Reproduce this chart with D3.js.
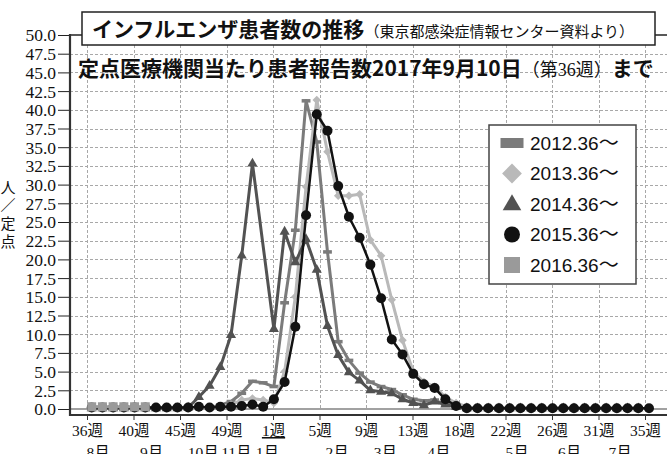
<!DOCTYPE html>
<html lang="ja">
<head>
<meta charset="utf-8">
<title>インフルエンザ患者数の推移</title>
<script src="https://d3js.org/d3.v7.min.js"></script>
<style>
  body { margin: 0; background: #fff; }
  svg { display: block; }
  .grid line { stroke: #a8a8a8; stroke-width: 1; stroke-dasharray: 3,2; shape-rendering: crispEdges; }
  .serif { font-family: "Liberation Serif", "Noto Sans CJK JP", serif; fill: #111; }
  .gothic { font-family: "Noto Sans CJK JP", sans-serif; fill: #111; }
  .legend text { font-family: "Liberation Sans", Arial, sans-serif; font-size: 19px; fill: #111; }
  .legend tspan.wave { font-family: "Noto Sans CJK JP", sans-serif; }
</style>
</head>
<body>
<div id="chart"></div>
<script>
// ---- data ----
var weekLabels = ["36週", "40週", "45週", "49週", "1週", "5週", "9週", "13週", "18週", "22週", "26週", "31週", "35週"];
var monthLabels = ["8月", "9月", "10月", "11月", "1月", "2月", "3月", "4月", "5月", "6月", "7月"];
var monthAt = [0.6, 5.6, 10.4, 13.5, 16.4, 22.9, 27.4, 32.4, 39.7, 44.6, 49.3]; // week index under each month label
var seriesNames = ["2012.36", "2013.36", "2014.36", "2015.36", "2016.36"];

// weekly values, index 0 = week 36 (null = no point plotted)
var s2012 = [0.1, 0.1, 0.1, 0.1, 0.1, 0.1, 0.1, 0.1, 0.1, 0.1, 0.1, 0.2, 0.5, 1.0, 2.1, 3.7, 3.5, 3.0, 14.2, 23.9,
  41.2, 35.7, 21.0, 9.0, 6.5, 4.8, 3.6, 3.0, 2.6, 1.9, 1.3, 1.1, 1.2, 0.6, 0.3, 0.1, 0.1, 0.1, 0.1, 0.1,
  0.1, 0.1, 0.1, 0.1, 0.1, 0.1, 0.1, 0.1, 0.1, 0.1, 0.1, 0.1];
var s2013 = [0.1, 0.1, 0.1, 0.1, 0.1, 0.1, 0.1, 0.1, 0.1, 0.1, 0.1, 0.2, 0.3, 0.6, 1.2, 1.4, 1.2, 0.8, 5.0, 15.0,
  29.7, 41.3, 34.4, 28.5, 28.5, 28.7, 22.6, 20.5, 14.6, 9.2, 5.0, 3.6, 3.0, 1.6, 0.8, 0.3, 0.1, 0.1, 0.1, 0.1,
  0.1, 0.1, 0.1, 0.1, 0.1, 0.1, 0.1, 0.1, 0.1, 0.1, 0.1, 0.1];
var s2014 = [0.1, 0.1, 0.1, 0.1, 0.1, 0.1, 0.1, 0.1, 0.1, 0.2, 1.6, 3.1, 5.6, 9.9, 20.5, 32.8, null, 10.7, 23.7, 19.6,
  22.7, 18.6, 11.1, 7.2, 4.9, 3.8, 2.5, 2.3, 2.1, 1.3, 0.8, 0.5, 1.0, 0.6, 0.3, 0.1, 0.1, 0.1, 0.1, 0.1,
  0.1, 0.1, 0.1, 0.1, 0.1, 0.1, 0.1, 0.1, 0.1, 0.1, 0.1, 0.1];
var s2015 = [0.2, 0.2, 0.2, 0.2, 0.2, 0.2, 0.2, 0.2, 0.2, 0.2, 0.3, 0.2, 0.3, 0.3, 0.4, 0.6, 0.3, 1.3, 3.6, 11.0,
  25.9, 39.4, 37.2, 29.8, 25.7, 22.9, 19.3, 14.8, 9.3, 7.3, 4.7, 3.3, 2.8, 1.3, 0.4, 0.1, 0.1, 0.1, 0.1, 0.1,
  0.1, 0.1, 0.1, 0.1, 0.1, 0.1, 0.1, 0.1, 0.1, 0.1, 0.1, 0.1, 0.1];
var s2016 = [0.3, 0.3, 0.3, 0.3, 0.3, 0.3];

var W = 667, H = 454;
var svg = d3.select("#chart").append("svg")
  .attr("width", W).attr("height", H)
  .attr("viewBox", "0 0 " + W + " " + H);

// scales
var x = d3.scaleLinear().domain([0, 52]).range([91.7, 649]);
var y = d3.scaleLinear().domain([0, 50]).range([409, 35]);
var left = 70, right = W;

// gridline positions, evenly spaced between 36週 and 35週
var g0 = x.invert(87), g1 = x.invert(645);
var gridWeeks = d3.range(13).map(function (k) { return g0 + k * (g1 - g0) / 12; });

// ---- grids ----
svg.append("g").attr("class", "grid")
  .selectAll("line").data(d3.range(2.5, 50, 2.5)).join("line")
  .attr("x1", left).attr("x2", right)
  .attr("y1", function (d) { return Math.round(y(d)) + 0.5; })
  .attr("y2", function (d) { return Math.round(y(d)) + 0.5; });

svg.append("g").attr("class", "grid")
  .selectAll("line").data(gridWeeks).join("line")
  .attr("x1", function (d) { return Math.round(x(d)) + 0.5; })
  .attr("x2", function (d) { return Math.round(x(d)) + 0.5; })
  .attr("y1", y(50)).attr("y2", y(0));

// frame lines
svg.append("line").attr("x1", left).attr("x2", right).attr("y1", y(50)).attr("y2", y(50))
  .attr("stroke", "#222").attr("stroke-width", 1.3);
svg.append("line").attr("x1", left).attr("x2", right).attr("y1", y(0)).attr("y2", y(0))
  .attr("stroke", "#444").attr("stroke-width", 1.2);
svg.append("line").attr("x1", left).attr("x2", right).attr("y1", 415).attr("y2", 415)
  .attr("stroke", "#333").attr("stroke-width", 2.2);

// ---- y axis ----
var yAxis = d3.axisLeft(y)
  .tickValues(d3.range(0, 50.01, 2.5))
  .tickFormat(d3.format(".1f"))
  .tickSize(12).tickSizeOuter(0);
var gy = svg.append("g").attr("transform", "translate(" + left + ",0)").call(yAxis);
gy.select(".domain").remove();
gy.selectAll(".tick line").attr("stroke", "#222");
gy.selectAll(".tick text").attr("class", "serif").attr("font-size", 17.5)
  .attr("x", -14).attr("dy", "0.34em");
svg.append("line").attr("x1", left).attr("x2", left).attr("y1", y(50) - 1).attr("y2", 416)
  .attr("stroke", "#333").attr("stroke-width", 2.2);

// y axis title, stacked vertically
var yTitle = svg.append("text").attr("class", "serif").attr("font-size", 15).attr("text-anchor", "middle");
["人", "／", "定", "点"].forEach(function (c, i) {
  yTitle.append("tspan").attr("x", 8).attr("y", 193 + i * 18).text(c);
});

// ---- x axis ----
var xAxis = d3.axisBottom(x)
  .tickValues(gridWeeks)
  .tickFormat(function (d, i) { return weekLabels[i]; })
  .tickSize(5).tickSizeOuter(0);
var gx = svg.append("g").attr("transform", "translate(0,415)").call(xAxis);
gx.select(".domain").remove();
gx.selectAll(".tick line").attr("stroke", "#333");
gx.selectAll(".tick text").attr("class", "serif").attr("font-size", 15.5)
  .attr("y", 10)
  .style("text-decoration", function (d, i) { return weekLabels[i] === "1週" ? "underline" : null; });

svg.append("g").selectAll("text").data(monthLabels).join("text")
  .attr("class", "serif").attr("font-size", 15.5).attr("text-anchor", "middle")
  .attr("x", function (d, i) { return x(monthAt[i]); })
  .attr("y", 458)
  .text(function (d) { return d; });

// ---- series ----
var colors = ["#7b7b7b", "#b9b9b9", "#525252", "#121212", "#9a9a9a"];
var allSeries = [s2012, s2013, s2014, s2015, s2016];

var line = d3.line()
  .x(function (d) { return x(d[0]); })
  .y(function (d) { return y(d[1]); });

function marker(g, k, size) {
  if (k === 0) {
    g.append("rect").attr("x", -size * 0.55).attr("y", -size * 0.22).attr("width", size * 1.1).attr("height", size * 0.44);
  } else if (k === 1) {
    g.append("rect").attr("x", -size / 2).attr("y", -size / 2).attr("width", size).attr("height", size)
      .attr("transform", "rotate(45)");
  } else if (k === 2) {
    g.append("path").attr("d", d3.symbol(d3.symbolTriangle, size * size * 0.55)());
  } else if (k === 3) {
    g.append("circle").attr("r", size / 2);
  } else {
    g.append("rect").attr("x", -size / 2).attr("y", -size / 2).attr("width", size).attr("height", size);
  }
}

var markerSize = [8, 6, 9, 10, 9];
var lineWidth = [3, 3, 3, 2.5, 3];

allSeries.forEach(function (vals, k) {
  var pts = vals.map(function (v, i) { return [i, v]; })
    .filter(function (p) { return p[1] != null; });
  var g = svg.append("g").attr("fill", colors[k]);
  g.append("path").datum(pts)
    .attr("d", line)
    .attr("fill", "none")
    .attr("stroke", colors[k])
    .attr("stroke-width", lineWidth[k])
    .attr("stroke-linejoin", "round");
  g.selectAll("g.pt").data(pts).join("g")
    .attr("class", "pt")
    .attr("transform", function (d) { return "translate(" + x(d[0]) + "," + y(d[1]) + ")"; })
    .each(function () { marker(d3.select(this), k, markerSize[k]); });
});

// ---- legend ----
var lg = svg.append("g").attr("class", "legend");
lg.append("rect").attr("x", 489).attr("y", 125).attr("width", 147).attr("height", 159)
  .attr("fill", "#fff").attr("stroke", "#444").attr("stroke-width", 1.5);
seriesNames.forEach(function (name, k) {
  var row = lg.append("g").attr("transform", "translate(512," + (143 + k * 30.5) + ")");
  var m = row.append("g").attr("fill", colors[k]);
  if (k === 0) {
    m.append("rect").attr("x", -11.5).attr("y", -5).attr("width", 23).attr("height", 10);
  } else if (k === 1) {
    m.append("rect").attr("x", -7).attr("y", -7).attr("width", 14).attr("height", 14).attr("transform", "rotate(45)");
  } else if (k === 2) {
    m.append("path").attr("d", d3.symbol(d3.symbolTriangle, 150)()).attr("transform", "translate(0,1)");
  } else if (k === 3) {
    m.append("circle").attr("r", 8);
  } else {
    m.append("rect").attr("x", -8).attr("y", -8).attr("width", 16).attr("height", 16);
  }
  var t = row.append("text").attr("x", 18).attr("dy", "0.36em").text(name);
  t.append("tspan").attr("class", "wave").attr("font-size", 20).text("〜");
});

// ---- title boxes ----
svg.append("rect").attr("x", 82).attr("y", 12).attr("width", 573).attr("height", 33)
  .attr("fill", "#fff").attr("stroke", "#222").attr("stroke-width", 1.5);
var t1 = svg.append("text").attr("x", 92).attr("y", 37);
t1.append("tspan").attr("class", "gothic").attr("font-size", 21).attr("font-weight", 700)
  .text("インフルエンザ患者数の推移");
t1.append("tspan").attr("class", "serif").attr("font-size", 15)
  .text("（東京都感染症情報センター資料より）");

var t2 = svg.append("text").attr("x", 78).attr("y", 76).attr("class", "gothic").attr("font-weight", 700);
t2.append("tspan").attr("font-size", 21).text("定点医療機関当たり患者報告数2017年9月10日");
t2.append("tspan").attr("class", "serif").attr("font-size", 18).attr("font-weight", 400).text("（第36週）");
t2.append("tspan").attr("font-size", 21).text("まで");
</script>
</body>
</html>
